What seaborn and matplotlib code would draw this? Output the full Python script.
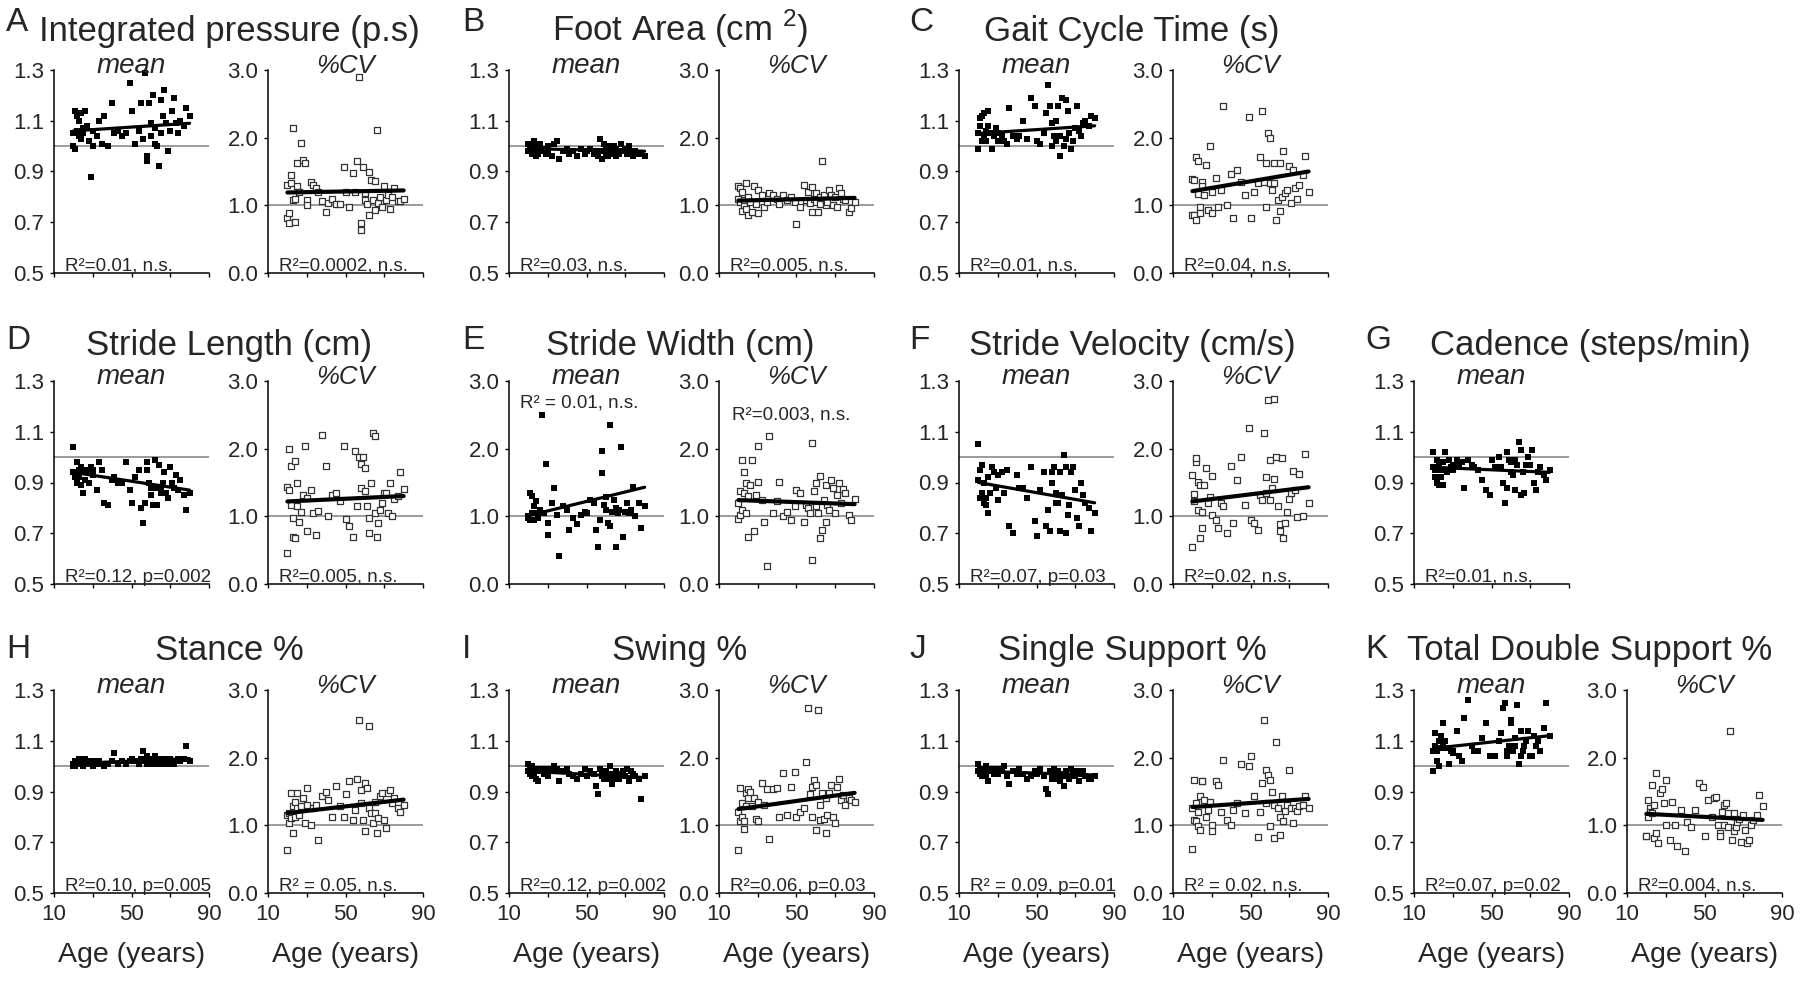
import matplotlib
matplotlib.use('Agg')
import matplotlib.pyplot as plt
import seaborn as sns

# Subject ages (shared by every panel), left to right
ages = [20, 20, 21, 21, 22, 22, 23, 23, 24, 24,
        25, 25, 26, 27, 28, 29, 30, 30, 32, 33,
        35, 36, 38, 40, 41, 43, 45, 47, 49, 50,
        52, 54, 55, 56, 57, 58, 58, 59, 60, 60,
        61, 62, 62, 63, 64, 65, 65, 66, 67, 68,
        69, 70, 71, 72, 73, 74, 75, 77, 78, 80]

# Normalised values (mean and %CV per measure)
A_mean = [1.00, 1.05, 1.14, 0.99, 1.12, 1.06, 1.10, 1.04, 1.13, 1.03,
          1.07, 1.05, 1.14, 1.08, 1.02, 0.88, 1.06, 1.00, 1.04, 1.10,
          1.01, 1.12, 1.00, 1.17, 1.05, 1.06, 1.04, 1.05, 1.25, 1.14,
          1.01, 1.06, 1.17, 1.03, 1.29, 0.94, 0.96, 1.17, 1.09, 1.04,
          1.20, 1.01, 1.07, 1.00, 0.92, 1.18, 1.05, 1.12, 1.22, 1.09,
          0.98, 1.06, 1.14, 1.19, 1.09, 1.05, 1.10, 1.08, 1.15, 1.12]
A_cv = [0.81, 1.30, 0.74, 0.88, 1.33, 1.45, 1.08, 2.14, 1.10, 0.76,
        1.62, 1.28, 1.20, 1.92, 1.67, 1.62, 1.08, 1.00, 1.35, 1.30,
        1.25, 1.19, 1.06, 0.90, 1.04, 1.09, 1.02, 1.02, 1.57, 1.20,
        0.98, 1.48, 1.20, 1.65, 2.90, 0.64, 0.74, 1.57, 1.08, 1.18,
        1.02, 1.49, 0.86, 1.37, 1.08, 0.93, 1.36, 2.11, 1.03, 1.13,
        0.98, 1.28, 1.08, 1.15, 0.95, 1.12, 1.25, 1.06, 1.06, 1.10]
B_mean = [1.01, 0.98, 0.99, 1.00, 0.97, 0.99, 1.02, 0.98, 0.96, 1.00,
          0.99, 0.97, 1.01, 0.98, 0.99, 0.97, 1.00, 0.98, 0.96, 1.01,
          1.02, 0.95, 0.98, 0.99, 0.97, 0.98, 0.96, 0.99, 0.97, 0.98,
          0.99, 0.97, 0.98, 0.96, 1.03, 0.95, 0.98, 1.01, 0.97, 0.99,
          0.96, 1.00, 0.98, 0.97, 1.00, 0.96, 0.99, 0.98, 0.97, 1.01,
          0.98, 0.99, 0.97, 1.00, 0.98, 0.96, 0.98, 0.97, 0.97, 0.96]
B_cv = [1.10, 1.29, 1.05, 1.25, 0.92, 1.20, 1.00, 1.08, 1.33, 0.95,
        0.85, 1.13, 1.05, 0.90, 1.28, 1.02, 1.22, 0.88, 1.15, 0.98,
        1.05, 1.18, 1.15, 1.10, 1.02, 1.15, 1.08, 1.12, 1.05, 0.73,
        0.98, 1.30, 1.08, 1.20, 1.03, 1.27, 0.90, 1.10, 1.18, 1.05,
        0.90, 1.12, 1.02, 1.65, 1.15, 1.08, 1.00, 1.05, 1.22, 1.15,
        1.00, 1.12, 0.97, 1.25, 1.18, 1.10, 1.08, 0.90, 0.96, 1.05]
C_mean = [0.99, 1.05, 1.11, 1.08, 1.02, 1.12, 1.13, 1.04, 1.06, 1.02,
          1.14, 1.08, 1.05, 0.99, 1.04, 1.07, 1.02, 1.05, 1.04, 1.02,
          1.01, 1.15, 1.04, 1.03, 1.04, 1.10, 1.03, 1.19, 1.16, 1.02,
          1.01, 1.05, 1.13, 1.24, 1.16, 1.00, 1.09, 1.04, 1.02, 1.10,
          1.16, 1.04, 0.96, 1.19, 1.00, 1.03, 1.18, 1.14, 1.05, 0.99,
          1.02, 1.07, 1.16, 1.06, 1.04, 1.09, 1.10, 1.08, 1.12, 1.11]
C_cv = [0.86, 1.39, 0.86, 1.38, 1.72, 0.79, 1.65, 1.17, 0.98, 0.88,
        1.35, 1.28, 1.15, 1.60, 0.93, 1.87, 0.88, 1.20, 1.40, 0.98,
        1.23, 2.47, 1.00, 1.47, 0.81, 1.52, 1.34, 1.15, 2.30, 0.82,
        1.19, 1.33, 1.72, 2.40, 1.35, 1.63, 0.98, 2.07, 2.00, 1.33,
        1.23, 1.62, 1.33, 0.78, 1.08, 1.63, 0.91, 1.13, 1.81, 1.18,
        1.23, 1.58, 1.03, 1.52, 1.25, 1.10, 1.30, 1.45, 1.73, 1.20]
D_mean = [1.04, 0.94, 0.94, 0.92, 0.90, 0.98, 0.95, 0.92, 0.96, 0.89,
          0.94, 0.86, 0.91, 0.95, 0.90, 0.96, 0.93, 0.95, 0.87, 0.98,
          0.95, 0.82, 0.81, 0.91, 0.92, 0.90, 0.90, 0.98, 0.87, 0.82,
          0.92, 0.95, 0.80, 0.74, 0.82, 0.95, 0.98, 0.90, 0.88, 0.85,
          0.81, 0.88, 0.99, 0.81, 0.97, 0.88, 0.86, 0.90, 0.94, 0.86,
          0.84, 0.96, 0.90, 0.88, 0.93, 0.87, 0.91, 0.85, 0.79, 0.86]
D_cv = [0.46, 1.44, 1.39, 1.99, 1.75, 1.17, 0.97, 0.70, 0.68, 1.82,
        1.15, 1.49, 0.91, 1.07, 1.32, 2.04, 0.79, 1.27, 1.39, 1.05,
        0.73, 1.08, 2.20, 1.74, 1.00, 1.32, 1.34, 1.22, 2.04, 0.96,
        0.86, 0.69, 1.96, 1.15, 1.88, 1.42, 1.78, 1.88, 1.71, 1.37,
        1.15, 0.75, 0.97, 1.49, 2.23, 1.05, 2.18, 0.70, 0.90, 1.10,
        1.20, 1.34, 1.34, 1.05, 1.50, 1.00, 1.25, 1.30, 1.65, 1.40]
E_mean = [0.97, 1.00, 0.95, 1.34, 1.30, 1.05, 0.95, 1.15, 1.22, 1.22,
          1.05, 0.98, 1.10, 2.50, 1.05, 1.78, 0.73, 0.90, 1.19, 1.42,
          1.02, 0.41, 1.16, 1.10, 0.80, 0.97, 0.88, 1.02, 1.07, 1.05,
          1.24, 1.19, 0.80, 0.55, 0.95, 1.96, 1.64, 1.17, 1.29, 1.10,
          0.90, 2.35, 0.85, 1.07, 1.24, 0.55, 1.12, 1.05, 1.10, 2.03,
          0.70, 1.07, 1.19, 1.05, 1.10, 1.44, 1.00, 1.20, 0.83, 1.15]
E_cv = [0.96, 1.20, 1.02, 1.38, 1.10, 1.83, 1.65, 1.35, 1.05, 1.49,
        1.30, 0.70, 1.47, 1.83, 0.78, 1.32, 1.51, 2.04, 1.24, 0.92,
        0.26, 2.18, 1.05, 1.22, 1.51, 1.00, 1.07, 0.95, 1.15, 1.39,
        1.34, 0.92, 1.17, 1.12, 1.05, 2.09, 0.36, 1.38, 1.15, 1.49,
        1.05, 0.68, 1.59, 0.80, 1.24, 0.92, 1.47, 1.17, 1.10, 1.54,
        1.42, 1.05, 1.32, 1.50, 1.20, 1.40, 1.35, 1.02, 0.95, 1.25]
F_mean = [1.05, 0.91, 0.84, 0.95, 0.86, 0.97, 0.82, 0.90, 0.84, 0.81,
          0.92, 0.78, 0.86, 0.96, 0.94, 0.88, 0.83, 0.93, 0.94, 0.86,
          0.95, 0.73, 0.70, 0.93, 0.88, 0.88, 0.84, 0.96, 0.75, 0.69,
          0.87, 0.94, 0.73, 0.79, 0.71, 0.90, 0.94, 0.96, 0.82, 0.86,
          0.82, 0.71, 0.94, 0.85, 1.01, 0.70, 0.96, 0.77, 0.81, 0.94,
          0.96, 0.87, 0.76, 0.73, 0.90, 0.85, 0.82, 0.80, 0.71, 0.78]
F_cv = [0.55, 1.61, 1.33, 1.22, 1.80, 1.86, 1.51, 1.10, 0.68, 1.47,
        0.83, 1.07, 1.47, 1.71, 1.20, 1.29, 1.02, 1.60, 0.95, 0.83,
        1.20, 1.16, 0.75, 1.74, 0.90, 1.54, 1.87, 1.17, 2.30, 0.95,
        0.90, 0.80, 1.32, 1.24, 2.23, 1.58, 1.35, 2.72, 1.83, 1.24,
        1.42, 2.73, 1.55, 1.88, 1.16, 0.88, 0.78, 1.86, 0.68, 0.90,
        1.07, 1.25, 1.34, 1.67, 1.39, 0.99, 1.63, 1.00, 1.92, 1.20]
G_mean = [1.02, 0.96, 0.92, 0.95, 0.99, 0.90, 0.97, 0.89, 0.92, 0.95,
          0.89, 0.98, 1.02, 0.94, 0.99, 0.96, 0.97, 0.95, 0.99, 0.97,
          0.98, 0.88, 0.99, 0.97, 0.96, 0.95, 0.91, 0.87, 0.85, 0.99,
          0.96, 1.00, 0.96, 0.90, 0.82, 0.88, 1.02, 0.99, 0.94, 0.98,
          0.93, 0.87, 0.99, 0.97, 1.06, 1.03, 0.85, 0.94, 0.86, 0.97,
          1.00, 0.97, 1.03, 0.90, 0.87, 0.94, 0.96, 0.93, 0.91, 0.95]
H_mean = [1.00, 1.01, 1.02, 1.00, 1.01, 1.02, 1.01, 1.03, 1.02, 1.01,
          1.02, 1.00, 1.03, 1.02, 1.01, 1.01, 1.02, 1.00, 1.01, 1.02,
          1.01, 1.00, 1.01, 1.02, 1.05, 1.01, 1.02, 1.01, 1.02, 1.03,
          1.02, 1.01, 1.03, 1.06, 1.02, 1.01, 1.04, 1.03, 1.02, 1.03,
          1.01, 1.02, 1.04, 1.02, 1.01, 1.03, 1.02, 1.01, 1.03, 1.02,
          1.01, 1.03, 1.02, 1.01, 1.02, 1.03, 1.02, 1.03, 1.08, 1.02]
H_cv = [0.63, 1.16, 1.04, 1.18, 1.48, 1.11, 0.89, 1.28, 1.13, 1.35,
        1.25, 1.48, 1.16, 1.28, 1.40, 1.03, 1.30, 1.55, 1.01, 1.25,
        1.30, 0.79, 1.43, 1.50, 1.38, 1.13, 1.58, 1.28, 1.13, 1.47,
        1.66, 1.08, 1.23, 1.68, 2.56, 1.33, 1.52, 1.08, 1.62, 0.91,
        1.55, 1.25, 2.47, 1.18, 1.03, 1.34, 1.18, 0.88, 1.11, 1.43,
        1.48, 1.08, 0.96, 1.48, 1.52, 1.33, 1.40, 1.25, 1.19, 1.30]
I_mean = [1.01, 0.98, 0.97, 0.99, 0.96, 1.00, 0.98, 0.97, 0.99, 0.95,
          0.98, 0.94, 0.99, 0.98, 0.97, 0.99, 0.98, 0.96, 0.99, 1.00,
          0.99, 0.94, 0.98, 0.99, 0.97, 0.96, 0.95, 0.97, 0.99, 0.96,
          0.98, 0.97, 0.92, 0.89, 0.99, 0.96, 0.97, 0.95, 0.98, 0.96,
          0.97, 0.95, 1.00, 0.93, 0.97, 0.95, 0.98, 0.96, 0.95, 0.97,
          0.98, 0.96, 0.99, 0.94, 0.98, 0.97, 0.96, 0.95, 0.87, 0.96]
I_cv = [0.63, 1.20, 1.06, 1.55, 1.13, 1.33, 1.06, 0.94, 1.28, 1.48,
        1.40, 1.53, 1.50, 1.28, 1.40, 1.10, 1.06, 1.35, 1.62, 1.30,
        1.53, 0.80, 1.54, 1.55, 1.13, 1.77, 1.15, 1.57, 1.79, 1.13,
        1.20, 1.25, 1.94, 2.73, 1.47, 1.13, 1.57, 1.67, 0.93, 1.60,
        2.71, 1.30, 1.08, 1.48, 1.10, 1.40, 0.88, 1.15, 1.48, 1.60,
        1.13, 1.03, 1.57, 1.68, 1.38, 1.45, 1.30, 1.40, 1.38, 1.35]
J_mean = [1.01, 0.98, 0.97, 0.99, 0.96, 0.98, 0.99, 0.97, 1.00, 0.96,
          0.98, 0.94, 0.98, 0.99, 0.97, 0.98, 0.99, 0.97, 0.98, 1.00,
          0.96, 0.93, 0.98, 0.97, 0.99, 0.97, 0.95, 0.96, 0.98, 0.97,
          0.99, 0.96, 0.91, 0.89, 0.98, 0.95, 0.97, 0.99, 0.96, 0.95,
          0.98, 0.97, 0.94, 0.96, 0.92, 0.98, 0.97, 0.96, 0.95, 0.99,
          0.97, 0.96, 0.98, 0.94, 0.97, 0.98, 0.96, 0.95, 0.95, 0.96]
J_cv = [0.65, 1.25, 1.08, 1.67, 1.33, 1.06, 1.20, 0.99, 0.93, 1.43,
        1.65, 1.66, 1.38, 1.13, 1.23, 1.35, 1.00, 0.91, 1.66, 1.60,
        1.20, 1.97, 1.08, 1.00, 1.23, 1.33, 1.91, 1.18, 1.88, 2.03,
        1.43, 0.83, 1.20, 1.62, 2.56, 1.82, 1.33, 1.75, 1.67, 0.99,
        1.50, 0.82, 1.30, 2.23, 1.25, 1.13, 0.86, 1.43, 1.06, 1.21,
        1.30, 1.82, 1.25, 1.03, 1.25, 1.21, 1.28, 1.30, 1.43, 1.25]
K_mean = [0.98, 1.06, 1.08, 1.13, 1.06, 1.02, 1.00, 1.10, 1.07, 1.12,
          1.08, 1.17, 1.10, 1.07, 1.01, 1.06, 1.06, 1.05, 1.14, 1.04,
          1.02, 1.19, 1.26, 1.08, 1.06, 1.06, 1.11, 1.17, 1.04, 1.04,
          1.04, 1.10, 1.13, 1.23, 1.25, 1.04, 1.06, 1.08, 1.17, 1.18,
          1.06, 1.08, 1.11, 1.24, 1.01, 1.04, 1.14, 1.06, 1.08, 1.10,
          1.14, 1.04, 1.04, 1.12, 1.08, 1.10, 1.06, 1.15, 1.25, 1.12]
K_cv = [0.84, 0.84, 1.13, 1.38, 1.25, 1.20, 1.60, 1.18, 1.30, 0.82,
        0.88, 1.78, 0.74, 1.48, 1.53, 1.33, 1.67, 1.00, 0.79, 1.35,
        1.00, 0.69, 1.23, 0.62, 1.05, 0.98, 1.23, 1.62, 1.57, 0.84,
        1.38, 1.13, 1.40, 1.42, 1.00, 0.88, 0.84, 1.20, 1.30, 1.00,
        1.33, 1.18, 0.98, 2.40, 0.79, 1.18, 0.91, 0.98, 1.05, 1.10,
        0.76, 1.16, 0.93, 0.74, 0.79, 1.00, 1.08, 1.16, 1.45, 1.28]

# Regression lines as drawn in the figure: value at age 20 and at age 80
fit_ages = [20, 80]
A_mean_fit, A_cv_fit = [1.06, 1.09], [1.19, 1.22]
B_mean_fit, B_cv_fit = [0.99, 0.98], [1.07, 1.11]
C_mean_fit, C_cv_fit = [1.05, 1.08], [1.21, 1.50]
D_mean_fit, D_cv_fit = [0.94, 0.87], [1.22, 1.30]
E_mean_fit, E_cv_fit = [1.01, 1.43], [1.24, 1.18]
F_mean_fit, F_cv_fit = [0.90, 0.82], [1.22, 1.43]
G_mean_fit = [0.96, 0.94]
H_mean_fit, H_cv_fit = [1.01, 1.03], [1.18, 1.38]
I_mean_fit, I_cv_fit = [0.98, 0.955], [1.24, 1.48]
J_mean_fit, J_cv_fit = [0.98, 0.965], [1.27, 1.39]
K_mean_fit, K_cv_fit = [1.07, 1.12], [1.17, 1.08]

sns.set_style('ticks')
plt.rcParams['font.family'] = ['Liberation Sans', 'DejaVu Sans']
plt.rcParams['mathtext.fontset'] = 'custom'
plt.rcParams['mathtext.rm'] = 'Liberation Sans'
NARROW = ['Liberation Sans Narrow', 'Liberation Sans', 'DejaVu Sans']

W, H = 1800, 982
fig = plt.figure(figsize=(18, 9.82), dpi=100)

mean_left = [54, 509, 959, 1414]
cv_left = [268, 719, 1173, 1627]
row_top = [70, 381, 690]
title_x = [229, 680, 1132, 1590]
title_y = [41, 355, 660]
letter_x = [6, 462, 909, 1365]
letter_y = [31, 349, 658]
AX_W, AX_H = 155, 203

# letter, title, row, col, mean, mean fit, mean R2, cv, cv fit, cv R2
panels = [
    ('A', 'Integrated pressure (p.s)', 0, 0, A_mean, A_mean_fit, 'R²=0.01, n.s.', A_cv, A_cv_fit, 'R²=0.0002, n.s.'),
    ('B', 'Foot Area (cm $^{2}$)', 0, 1, B_mean, B_mean_fit, 'R²=0.03, n.s.', B_cv, B_cv_fit, 'R²=0.005, n.s.'),
    ('C', 'Gait Cycle Time (s)', 0, 2, C_mean, C_mean_fit, 'R²=0.01, n.s.', C_cv, C_cv_fit, 'R²=0.04, n.s.'),
    ('D', 'Stride Length (cm)', 1, 0, D_mean, D_mean_fit, 'R²=0.12, p=0.002', D_cv, D_cv_fit, 'R²=0.005, n.s.'),
    ('E', 'Stride Width (cm)', 1, 1, E_mean, E_mean_fit, 'R² = 0.01, n.s.', E_cv, E_cv_fit, 'R²=0.003, n.s.'),
    ('F', 'Stride Velocity (cm/s)', 1, 2, F_mean, F_mean_fit, 'R²=0.07, p=0.03', F_cv, F_cv_fit, 'R²=0.02, n.s.'),
    ('G', 'Cadence (steps/min)', 1, 3, G_mean, G_mean_fit, 'R²=0.01, n.s.', None, None, None),
    ('H', 'Stance %', 2, 0, H_mean, H_mean_fit, 'R²=0.10, p=0.005', H_cv, H_cv_fit, 'R² = 0.05, n.s.'),
    ('I', 'Swing %', 2, 1, I_mean, I_mean_fit, 'R²=0.12, p=0.002', I_cv, I_cv_fit, 'R²=0.06, p=0.03'),
    ('J', 'Single Support %', 2, 2, J_mean, J_mean_fit, 'R² = 0.09, p=0.01', J_cv, J_cv_fit, 'R² = 0.02, n.s.'),
    ('K', 'Total Double Support %', 2, 3, K_mean, K_mean_fit, 'R²=0.07, p=0.02', K_cv, K_cv_fit, 'R²=0.004, n.s.'),
]


def make_axes(left, top):
    return fig.add_axes([left / W, 1 - (top + AX_H) / H, AX_W / W, AX_H / H])


def draw(ax, values, fit, r2, filled, wide_scale, label, bottom_row, r2_pos):
    ax.axhline(1.0, color='#808080', lw=1.1, zorder=1)
    if filled:
        sns.scatterplot(x=ages, y=values, ax=ax, marker='s', s=16,
                        color='black', linewidth=0, zorder=3)
    else:
        sns.scatterplot(x=ages, y=values, ax=ax, marker='s', s=21,
                        color='white', edgecolor='#333333', linewidth=0.9, zorder=3)
    sns.lineplot(x=fit_ages, y=fit, ax=ax, color='black',
                 linewidth=2.3 if filled else 3.0, zorder=4)
    ax.set_xlim(10, 90)
    if wide_scale:
        ax.set_ylim(0, 3)
        ax.set_yticks([0, 1, 2, 3])
        ax.set_yticklabels(['0.0', '1.0', '2.0', '3.0'])
    else:
        ax.set_ylim(0.5, 1.3)
        ax.set_yticks([0.5, 0.7, 0.9, 1.1, 1.3])
        ax.set_yticklabels(['0.5', '0.7', '0.9', '1.1', '1.3'])
    ax.set_xticks([10, 30, 50, 70, 90])
    if bottom_row:
        ax.set_xticklabels(['10', '', '50', '', '90'])
        ax.set_xlabel('Age (years)', fontsize=20.5)
        ax.xaxis.set_label_coords(0.5, -0.24)
    else:
        ax.set_xticklabels([])
        ax.set_xlabel('')
    ax.set_ylabel('')
    sns.despine(ax=ax)
    for side in ['left', 'bottom']:
        ax.spines[side].set_linewidth(1.1)
        ax.spines[side].set_color('black')
    ax.tick_params(axis='both', direction='out', length=3, width=1.0,
                   color='black', labelsize=16, pad=4)
    ax.tick_params(axis='x', pad=5)
    for t in ax.get_xticklabels() + ax.get_yticklabels():
        t.set_family(NARROW)
    ax.text(0.5, 0.985, label, transform=ax.transAxes, ha='center', va='baseline',
            fontsize=20 if label == 'mean' else 18.5, style='italic')
    ax.text(r2_pos[0], r2_pos[1], r2, transform=ax.transAxes, ha='left',
            va='baseline', fontsize=13.5, family=NARROW)


for letter, title, row, col, mv, mfit, mr2, cv, cfit, cr2 in panels:
    fig.text(letter_x[col] / W, 1 - letter_y[row] / H, letter, fontsize=24,
             ha='left', va='baseline')
    fig.text(title_x[col] / W, 1 - title_y[row] / H, title, fontsize=25,
             ha='center', va='baseline')
    top = row_top[row]
    ax = make_axes(mean_left[col], top)
    wide = letter == 'E'
    draw(ax, mv, mfit, mr2, True, wide, 'mean', row == 2,
         (0.07, 0.87) if wide else (0.07, 0.012))
    if cv is not None:
        ax2 = make_axes(cv_left[col], top)
        draw(ax2, cv, cfit, cr2, False, True, '%CV', row == 2,
             (0.085, 0.81) if wide else (0.07, 0.012))

fig.savefig('out.png', dpi=100)
